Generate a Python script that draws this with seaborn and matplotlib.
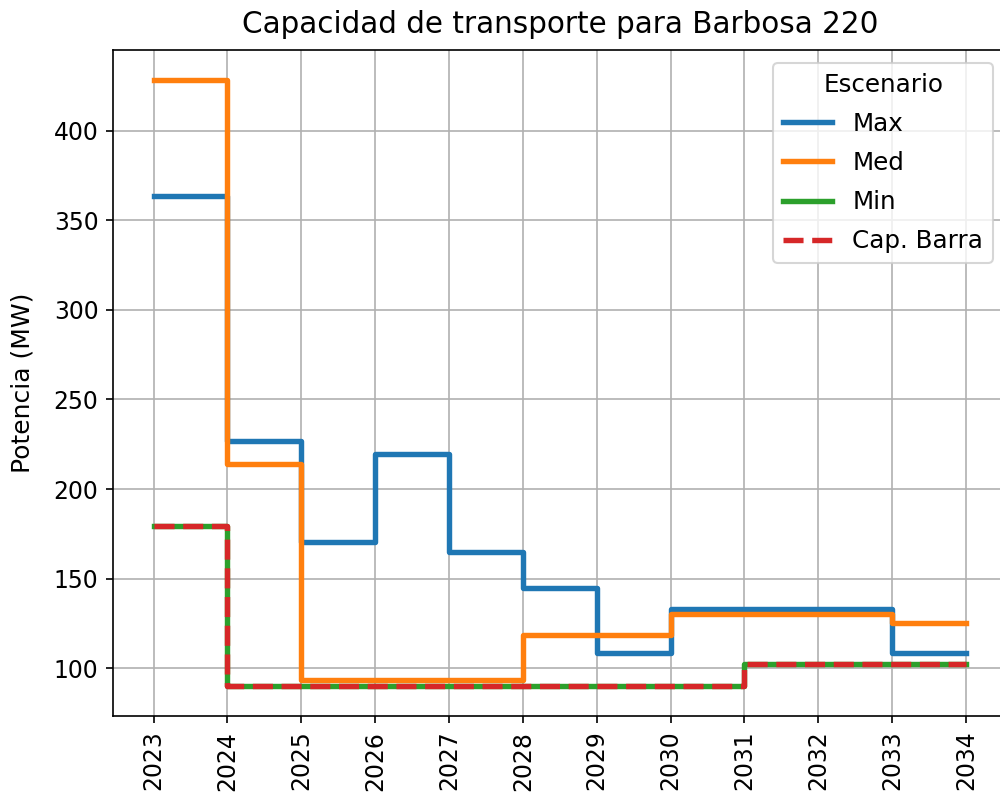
import matplotlib
matplotlib.use("Agg")
import matplotlib.pyplot as plt
import seaborn as sns
import pandas as pd

years = [2023, 2024, 2025, 2026, 2027, 2028, 2029, 2030, 2031, 2032, 2033, 2034]
max_vals = [363.5, 226.7, 170.5, 219.7, 165.0, 145.0, 108.5, 133.3, 133.3, 133.3, 108.5, 108.5]
med_vals = [428.0, 214.0, 93.5, 93.5, 93.5, 118.4, 118.4, 130.5, 130.5, 130.5, 125.5, 125.5]
min_vals = [179.6, 90.2, 90.2, 90.2, 90.2, 90.2, 90.2, 90.2, 102.2, 102.2, 102.2, 102.2]
cap_vals = [179.6, 90.2, 90.2, 90.2, 90.2, 90.2, 90.2, 90.2, 102.2, 102.2, 102.2, 102.2]
scenarios = ["Max", "Med", "Min"]

df = pd.DataFrame({
    "Año": years * 3,
    "Potencia": max_vals + med_vals + min_vals,
    "Escenario": sum([[s] * len(years) for s in scenarios], []),
})
df_cap = pd.DataFrame({"Año": years, "Potencia": cap_vals})

fig = plt.figure(figsize=(1000 / 150, 801 / 150), dpi=150)
ax = fig.add_axes([0.113, 0.106, 0.8935, 0.8315])

palette = {"Max": "#1f77b4", "Med": "#ff7f0e", "Min": "#2ca02c"}
sns.lineplot(data=df, x="Año", y="Potencia", hue="Escenario", palette=palette,
             drawstyle="steps-post", linewidth=2.6, ax=ax)
sns.lineplot(data=df_cap, x="Año", y="Potencia", color="#d62728", linestyle="--",
             drawstyle="steps-post", linewidth=2.6, label="Cap. Barra", ax=ax)

ax.set_xticks(years)
ax.set_xticklabels([str(y) for y in years], rotation=90)
ax.tick_params(labelsize=11.3)
ax.set_xlabel("")
ax.set_ylabel("Potencia (MW)", fontsize=12, labelpad=9)
ax.set_title("Capacidad de transporte para Barbosa 220", fontsize=14.2, pad=8)
ax.grid(True, color="#b0b0b0", linewidth=0.8)
ax.legend(title="Escenario", loc="upper right", bbox_to_anchor=(0.9985, 0.9995),
          fontsize=11.8, title_fontsize=11.8, labelspacing=0.62)

fig.savefig("out.png", dpi=150)
